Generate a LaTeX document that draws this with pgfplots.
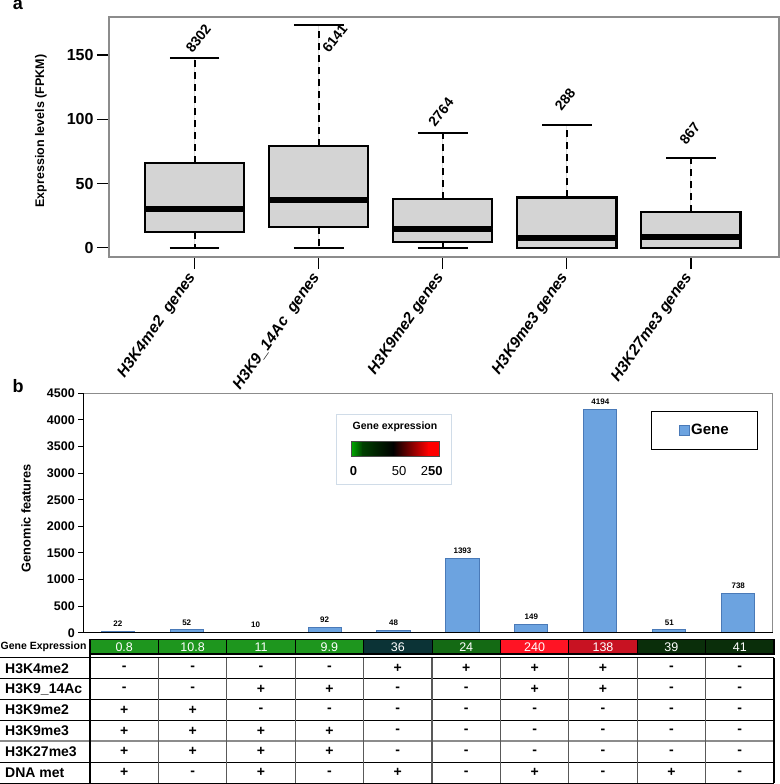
\documentclass[border=0pt]{standalone}
\usepackage{pgfplots}
\pgfplotsset{compat=1.18}
\usepgfplotslibrary{statistics}
\usepackage{fontspec}
\setmainfont{Liberation Sans}
\definecolor{boxgray}{HTML}{D4D4D4}
\definecolor{axgray}{HTML}{8C8C8C}
\definecolor{barblue}{HTML}{6CA3E0}
\definecolor{barline}{HTML}{4A7AB8}
\definecolor{cg}{HTML}{1E961E}
\definecolor{cteal}{HTML}{0B3336}
\definecolor{cg2}{HTML}{146A14}
\definecolor{cred}{HTML}{FF1424}
\definecolor{cred2}{HTML}{C81222}
\definecolor{cdk}{HTML}{0A2E0A}
\definecolor{cbox}{HTML}{D0DCE8}
\newcommand{\fs}[1]{\fontsize{#1}{#1}\selectfont}
\pgfplotsset{
  /pgf/number format/1000 sep={},
  /pgf/number format/assume math mode=true,
  boxplot/draw/lower whisker/.code={
    \draw[black, line width=2pt, dash pattern=on 7pt off 5pt]
      (boxplot box cs:\pgfplotsboxplotvalue{lower quartile},0.5) --
      (boxplot box cs:\pgfplotsboxplotvalue{lower whisker},0.5);
    \draw[black, line width=2pt]
      (boxplot whisker cs:\pgfplotsboxplotvalue{lower whisker},0) --
      (boxplot whisker cs:\pgfplotsboxplotvalue{lower whisker},1);
  },
  boxplot/draw/upper whisker/.code={
    \draw[black, line width=2pt, dash pattern=on 7pt off 5pt]
      (boxplot box cs:\pgfplotsboxplotvalue{upper quartile},0.5) --
      (boxplot box cs:\pgfplotsboxplotvalue{upper whisker},0.5);
    \draw[black, line width=2pt]
      (boxplot whisker cs:\pgfplotsboxplotvalue{upper whisker},0) --
      (boxplot whisker cs:\pgfplotsboxplotvalue{upper whisker},1);
  },
  boxplot/every box/.style={fill=boxgray, draw=black, line width=2.2pt},
  boxplot/every median/.style={draw=black, line width=6pt},
  mybox/.style={draw=black, fill=boxgray, line width=2.2pt}
}
\begin{document}
\begin{tikzpicture}
\useasboundingbox (0pt,0pt) rectangle (779pt,-784pt);
% ---------------- panel a ----------------
\begin{axis}[
  at={(109pt,-17pt)}, anchor=north west,
  scale only axis, width=670pt, height=240pt,
  xmin=0.31, xmax=5.71, ymin=-7.2, ymax=179.7,
  axis line style={draw=axgray, line width=1.5pt},
  tick style={draw=black, line width=1.3pt},
  tick align=outside, tick pos=left, major tick length=12pt,
  ytick={0,50,100,150},
  xtick={1,2,3,4,5},
  xticklabels={H3K4me2\ \ genes, H3K9\_14Ac\ \ genes, H3K9me2 genes, H3K9me3 genes, H3K27me3 genes},
  xticklabel style={rotate=55, anchor=east, font=\fs{15.5}\bfseries\itshape},
  xticklabel shift=3pt,
  yticklabel style={font=\fs{16}\bfseries},
  ylabel={Expression levels (FPKM)},
  ylabel style={font=\fs{12.5}\bfseries, at={(rel axis cs:-0.1015,0.525)}, anchor=center},
  boxplot/draw direction=y,
  clip=false,
]
\addplot[mybox, boxplot prepared={draw position=1, median=29.9, lower quartile=12, upper quartile=66.2, lower whisker=0, upper whisker=147.5, box extend=0.8, whisker extend=0.4}] coordinates {};
\addplot[mybox, boxplot prepared={draw position=2, median=36.9, lower quartile=16.4, upper quartile=79.2, lower whisker=0, upper whisker=173.2, box extend=0.8, whisker extend=0.4}] coordinates {};
\addplot[mybox, boxplot prepared={draw position=3, median=14.8, lower quartile=4.2, upper quartile=37.9, lower whisker=0, upper whisker=89.6, box extend=0.8, whisker extend=0.4}] coordinates {};
\addplot[mybox, boxplot prepared={draw position=4, median=7.8, lower quartile=0, upper quartile=39.2, lower whisker=0, upper whisker=95.3, box extend=0.8, whisker extend=0.4}] coordinates {};
\addplot[mybox, boxplot prepared={draw position=5, median=8.6, lower quartile=0, upper quartile=27.8, lower whisker=0, upper whisker=69.6, box extend=0.8, whisker extend=0.4}] coordinates {};
\node[rotate=52, anchor=south west, font=\fs{14}\bfseries, inner sep=0pt] at (axis cs:0.985,151) {8302};
\node[rotate=52, anchor=south west, font=\fs{14}\bfseries, inner sep=0pt] at (axis cs:2.085,151) {6141};
\node[rotate=52, anchor=south west, font=\fs{14}\bfseries, inner sep=0pt] at (axis cs:2.94,93.5) {2764};
\node[rotate=52, anchor=south west, font=\fs{14}\bfseries, inner sep=0pt] at (axis cs:3.96,106) {288};
\node[rotate=52, anchor=south west, font=\fs{14}\bfseries, inner sep=0pt] at (axis cs:4.965,79) {867};
\end{axis}
% ---------------- panel b ----------------
\begin{axis}[
  at={(83.3pt,-393.3pt)}, anchor=north west,
  scale only axis, width=689.4pt, height=239.4pt,
  xmin=0.5, xmax=10.5, ymin=0, ymax=4500,
  ybar, bar width=0.48,
  axis line style={draw=axgray, line width=1.2pt},
  xtick=\empty, ytick={0,500,...,4500},
  tick style={draw=black, line width=1pt},
  tick align=outside, ytick pos=left, major tick length=5pt,
  yticklabel style={font=\fs{12.5}\bfseries},
  ylabel={Genomic features},
  ylabel style={font=\fs{12.8}\bfseries, at={(rel axis cs:-0.0831,0.479)}, anchor=center},
  nodes near coords,
  nodes near coords style={font=\fs{8}\bfseries, black, yshift=1pt},
  clip=false,
  legend style={at={(rel axis cs:0.8235,0.926)}, anchor=north west, draw=black, line width=1pt,
    font=\fs{15}\bfseries, inner xsep=27pt, inner ysep=11pt},
]
\addplot[fill=barblue, draw=barline, line width=1pt,
  legend image code/.code={\draw[fill=barblue, draw=barline, line width=0.6pt] (0pt,-5pt) rectangle (10pt,5pt);}]
  coordinates {(1,22) (2,52) (3,10) (4,92) (5,48) (6,1393) (7,149) (8,4194) (9,51) (10,738)};
\legend{Gene}
\draw[black, line width=1.5pt] (rel axis cs:0,1) -- (rel axis cs:0,0) -- (rel axis cs:1,0);
\end{axis}
% ---------------- colour key, table ----------------
\begin{scope}[x=1pt, y=1pt]
\node[font=\fs{18}\bfseries] at (18,-5) {a};
\node[font=\fs{18}\bfseries] at (18,-386) {b};
% colour key
\draw[cbox, line width=0.8pt, fill=white] (336.7,-414.3) rectangle (451.7,-484.3);
\node[font=\fs{10.5}\bfseries] at (395,-426.7) {Gene expression};
\shade[left color=green!65!black, right color=green!25!black] (351.7,-441) rectangle (362.5,-456);
\shade[left color=green!25!black, right color=black] (362,-441) rectangle (393.5,-456);
\shade[left color=black, right color=red] (393,-441) rectangle (428.5,-456);
\fill[red] (428,-441) rectangle (439.3,-456);
\draw[black!70, line width=0.6pt] (351.7,-441) rectangle (439.3,-456);
\node[font=\fs{13}\bfseries] at (353.5,-471) {0};
\node[font=\fs{13}] at (399,-471) {50};
\node[font=\fs{13}] at (431.7,-471) {2\textbf{50}};
% gene expression row
\node[anchor=west, font=\fs{10.5}\bfseries, inner sep=0pt] at (0.5,-646.6) {Gene Expression};
\foreach \v/\c [count=\i from 0] in {0.8/cg, 10.8/cg, 11/cg, 9.9/cg, 36/cteal, 24/cg2, 240/cred, 138/cred2, 39/cdk, 41/cdk} {
  \fill[\c] ({90+68.4*\i},-639.3) rectangle ({90+68.4*(\i+1)},-654);
  \node[white, font=\fs{12.5}] at ({124.2+68.4*\i},-646.8) {\v};
}
\foreach \i in {1,...,9} \draw[black, line width=1pt] ({90+68.4*\i},-639.3) -- ({90+68.4*\i},-654);
\draw[black, line width=1.2pt] (90,-639.3) rectangle (774,-654);
% table
\foreach \y in {657.7,678.7,699.3,720.3,762.3,783.2} \draw[black, line width=1.2pt] (0,-\y) -- (774,-\y);
\draw[axgray, line width=2pt] (0,-741.3) -- (774,-741.3);
\draw[black, line width=1.2pt] (90,-654) -- (90,-783.2);
\foreach \i in {1,...,9} \draw[black!65, line width=1.2pt] ({90+68.4*\i},-657.7) -- ({90+68.4*\i},-783.2);
\draw[black, line width=1.2pt] (774,-657.7) -- (774,-783.2);
\foreach \lab/\syms [count=\r from 0] in {
   H3K4me2/{-,-,-,-,+,+,+,+,-,-},
   H3K9\_14Ac/{-,-,+,+,-,-,+,+,-,-},
   H3K9me2/{+,+,-,-,-,-,-,-,-,-},
   H3K9me3/{+,+,+,+,-,-,-,-,-,-},
   H3K27me3/{+,+,+,+,-,-,-,-,-,-},
   DNA met/{+,-,+,-,+,-,+,-,+,-}} {
  \node[anchor=west, font=\fs{14}\bfseries, inner sep=0pt] at (5,{-668.2-20.92*\r}) {\lab};
  \foreach \s [count=\i from 0] in \syms {
    \node[font=\fs{14}\bfseries] at ({124.2+68.4*\i},{-668.2-20.92*\r}) {\s};
  }
}
\end{scope}
\end{tikzpicture}
\end{document}
